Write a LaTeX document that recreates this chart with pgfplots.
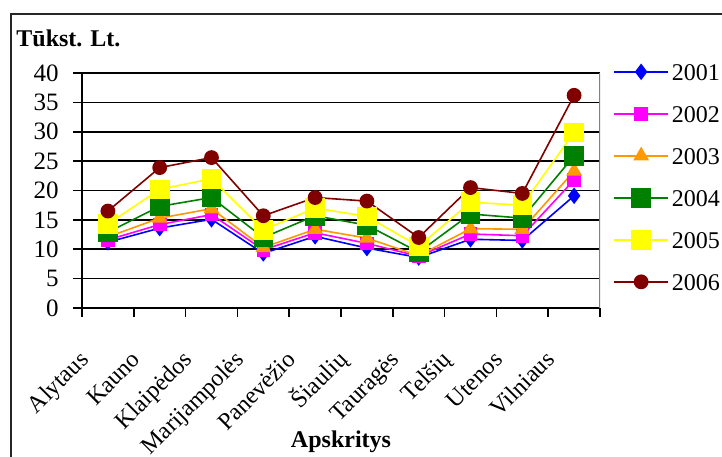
\documentclass[border=0pt]{standalone}
\usepackage{fontspec}
\setmainfont{Liberation Serif}
\usepackage{pgfplots}
\usepackage{pgfplotstable}
\pgfplotsset{compat=1.18}

\definecolor{c01}{RGB}{0,0,255}
\definecolor{c02}{RGB}{255,0,255}
\definecolor{c03}{RGB}{255,153,0}
\definecolor{c04}{RGB}{0,128,0}
\definecolor{c05}{RGB}{255,255,0}
\definecolor{c06}{RGB}{128,0,0}

% 0 Alytaus ... 9 Vilniaus
\pgfplotstableread{
x  a01  a02  a03  a04  a05  a06
0  11.2 11.6 12.1 12.9 14.3 16.5
1  13.6 14.2 15.3 17.3 20.2 23.9
2  15.1 15.9 16.9 18.8 22.0 25.6
3  9.3  9.9  10.3 12.0 13.3 15.7
4  12.2 12.8 13.4 15.7 17.0 18.8
5  10.2 11.0 11.9 14.1 15.6 18.2
6  8.6  8.8  8.9  9.5  10.5 12.0
7  11.7 12.6 13.5 16.0 18.0 20.5
8  11.5 12.3 13.4 15.3 17.5 19.5
9  19.1 21.8 23.3 25.9 29.9 36.2
}\data

\begin{document}
\fontsize{12}{14}\selectfont
\begin{tikzpicture}
\useasboundingbox (-41pt,-74pt) rectangle (320pt,154pt);
\draw[line width=1pt, black!85] (-35.5pt,-90pt) -- (-35.5pt,147pt) -- (340pt,147pt);
\node[anchor=base west, inner sep=0pt, font=\bfseries] at (-33pt,131pt) {Tūkst. Lt.};
\begin{axis}[
  at={(0pt,0pt)}, anchor=south west,
  scale only axis, width=259pt, height=117.5pt,
  xmin=-0.5, xmax=9.5, ymin=0, ymax=40,
  axis lines=left, axis line style={-, black, line width=0.8pt},
  ytick={0,5,...,40},
  xtick={-0.5,0.5,...,9.5},
  x tick label as interval,
  xticklabels={Alytaus,Kauno,Klaipėdos,Marijampolės,Panevėžio,Šiaulių,Tauragės,Telšių,Utenos,Vilniaus},
  xticklabel style={font=\fontsize{12}{14}\selectfont, inner sep=0pt, xshift=-9pt, yshift=-22pt, rotate=45, anchor=base east},
  yticklabel style={font=\fontsize{12.5}{15}\selectfont, xshift=-3pt},
  tick align=outside, major tick length=4.5pt,
  tick style={black, line width=0.8pt},
  ymajorgrids, major grid style={black, line width=0.8pt},
  /pgf/number format/assume math mode=true,
  xlabel={Apskritys},
  xlabel style={font=\bfseries, at={(axis description cs:0.5,0)}, anchor=base, yshift=-69.5pt},
  legend style={at={(axis description cs:1.025,1.045)}, anchor=north west,
    draw=none, fill=none, inner sep=0pt, row sep=9pt,
    nodes={inner sep=0pt, text height=9pt, text depth=3pt},
    /tikz/every odd column/.append style={column sep=1.5pt}},
  legend cell align=left,
  legend image code/.code={\draw[#1, mark repeat=2, mark phase=2] plot coordinates {(0pt,1.5pt) (13.5pt,1.5pt) (27pt,1.5pt)};},
  every axis plot/.append style={line width=0.8pt},
]
\addplot[c01, mark=diamond*, mark size=3.5pt, mark options={solid, fill=c01}] table[x=x, y=a01] {\data};
\addplot[c02, mark=square*, mark size=3pt, mark options={solid, fill=c02}] table[x=x, y=a02] {\data};
\addplot[c03, mark=triangle*, mark size=3.8pt, mark options={solid, fill=c03}] table[x=x, y=a03] {\data};
\addplot[c04, mark=square*, mark size=4.5pt, mark options={solid, fill=c04}] table[x=x, y=a04] {\data};
\addplot[c05, mark=square*, mark size=4.5pt, mark options={solid, fill=c05}] table[x=x, y=a05] {\data};
\addplot[c06, mark=*, mark size=3.3pt, mark options={solid, fill=c06}] table[x=x, y=a06] {\data};
\draw[gray, line width=0.8pt] (rel axis cs:1,0) -- (rel axis cs:1,1);
\legend{2001,2002,2003,2004,2005,2006}
\end{axis}
\end{tikzpicture}
\end{document}
